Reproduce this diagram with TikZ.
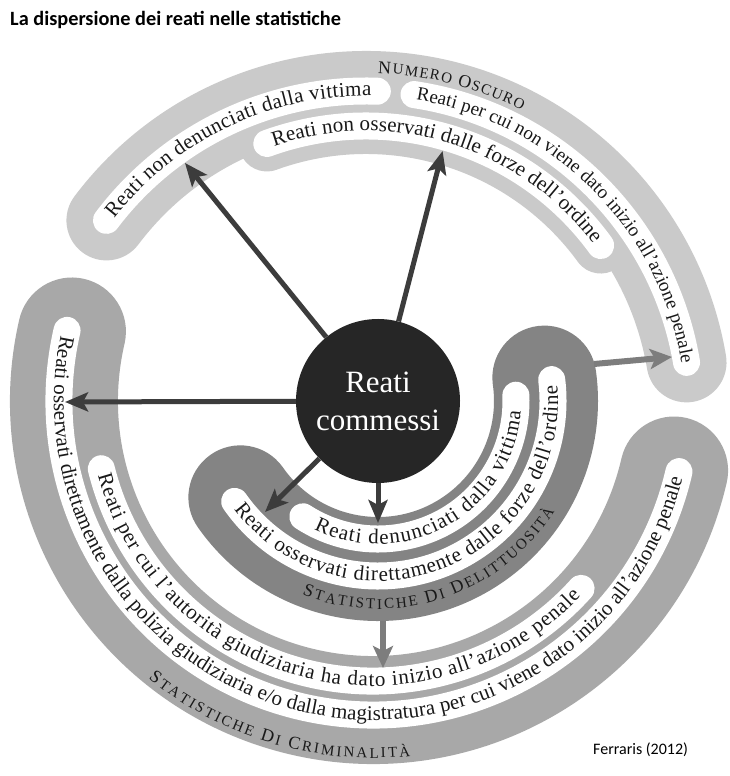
\documentclass[tikz,border=0pt]{standalone}
\usepackage{fontspec}
\setmainfont{Liberation Serif}
\newfontfamily\titlefont{Carlito}
\usetikzlibrary{calc,decorations.text,arrows.meta}
\definecolor{bandA}{RGB}{202,202,202}
\definecolor{bandB}{RGB}{132,132,132}
\definecolor{bandC}{RGB}{168,168,168}
\definecolor{ballc}{RGB}{38,38,38}
\definecolor{arrd}{RGB}{60,60,60}
\definecolor{arrg}{RGB}{125,125,125}
\definecolor{txt}{RGB}{25,25,25}
\newcommand{\stripfont}{\fontsize{21}{21}\selectfont}
\newcommand{\stripfontb}{\fontsize{19}{19}\selectfont}
\newcommand{\capbig}{\fontsize{18}{18}\selectfont}
\newcommand{\capsmall}{\fontsize{15}{15}\selectfont}
\begin{document}
\begin{tikzpicture}[x=1pt,y=1pt,
  band/.style={line cap=round},
  strip/.style={line cap=round, line width=27pt, draw=white},
  darr/.style={line width=5pt, draw=arrd, -{Stealth[length=23pt,width=19pt,inset=5pt]}},
  garr/.style={line width=6pt, draw=arrg, -{Stealth[length=22pt,width=20pt,inset=5pt]}},
  ftext/.style={decorate, decoration={text along path, text color=txt, text align={fit to path, left indent=6pt, right indent=6pt}, text={#1}}},
  wtext/.style={decorate, decoration={text along path, text color=txt, text align={fit to path, left indent=16pt, right indent=16pt}, text={#1}}},
  ltext/.style={decorate, decoration={text along path, text color=txt, text align={fit to path}, text={#1}}}
  ]
\useasboundingbox (0,0) rectangle (729,776);
\fill[white] (0,0) rectangle (729,776);
\coordinate (C1) at (366,360);
\coordinate (C3) at (373,375);
\coordinate (O) at (378,375);

% ---------- band 1: numero oscuro
\draw[band, line width=80pt, draw=bandA] ($(C1)+(143:325)$) arc[start angle=143, end angle=9.5, radius=325];
\draw[band, line width=56pt, draw=bandA] ($(C1)+(110:290)$) arc[start angle=110, end angle=36, radius=290];
\draw[strip] ($(C1)+(143:325)$) arc[start angle=143, end angle=88, radius=325];
\draw[strip] ($(C1)+(81.5:325)$) arc[start angle=81.5, end angle=9.5, radius=325];
\draw[strip] ($(C1)+(110:290)$) arc[start angle=110, end angle=36, radius=290];
\path[ftext={|\stripfont|Reati non denunciati dalla vittima}] ($(C1)+(143:320)$) arc[start angle=143, end angle=88, radius=320];
\path[ltext={|\stripfontb|Reati per cui non viene dato inizio all’azione penale}] ($(C1)+(81:320)$) arc[start angle=81, end angle=9.5, radius=320];
\path[ftext={|\stripfont|Reati non osservati dalle forze dell’ordine}] ($(C1)+(110:285)$) arc[start angle=110, end angle=36, radius=285];
\path[ltext={|\capbig|N|\capsmall|UMERO |\capbig|O|\capsmall|SCURO}] ($(C1)+(88:343)$) arc[start angle=88, end angle=63, radius=343];

% ---------- band 3: statistiche di criminalita
\draw[band, line width=108pt, draw=bandC] ($(C3)+(167:309)$) arc[start angle=167, end angle=347, radius=309];
\draw[strip] ($(C3)+(167:314)$) arc[start angle=167, end angle=347, radius=314];
\draw[strip] ($(C3)+(194:280)$) arc[start angle=194, end angle=318, radius=280];
\path[ftext={|\stripfont|Reati osservati direttamente dalla polizia giudiziaria e/o dalla magistratura per cui viene dato inizio all’azione penale}] ($(C3)+(167:319)$) arc[start angle=167, end angle=347, radius=319];
\path[ftext={|\stripfont|Reati per cui l’autorità giudiziaria ha dato inizio all’azione penale}] ($(C3)+(194:285)$) arc[start angle=194, end angle=318, radius=285];
\path[ltext={|\capbig|S|\capsmall|TATISTICHE |\capbig|D|\capsmall|I |\capbig|C|\capsmall|RIMINALITÀ}] ($(C3)+(231:357)$) arc[start angle=231, end angle=276, radius=357];

% ---------- band 2: statistiche di delittuosita
\draw[band, line width=104pt, draw=bandB] ($(O)+(215:168)$) arc[start angle=215, end angle=368, radius=168];
\draw[strip] ($(O)+(215:175)$) arc[start angle=215, end angle=367, radius=175];
\draw[strip] ($(O)+(237:138)$) arc[start angle=237, end angle=362.4, radius=138];
\path[ftext={|\stripfont|Reati osservati direttamente dalle forze dell’ordine}] ($(O)+(215:180)$) arc[start angle=215, end angle=367, radius=180];
\path[wtext={|\stripfont|Reati denunciati dalla vittima}] ($(O)+(237:143)$) arc[start angle=237, end angle=362.4, radius=143];
\path[ltext={|\capbig|S|\capsmall|TATISTICHE |\capbig|D|\capsmall|I |\capbig|D|\capsmall|ELITTUOSITÀ}] ($(O)+(248.6:208)$) arc[start angle=248.6, end angle=328, radius=208];

% ---------- centre
\node[circle, fill=ballc, minimum size=164pt, inner sep=0pt, text=white, align=center,
      font=\fontsize{31}{38}\selectfont] (rc) at (O) {Reati\\commessi};

% ---------- arrows
\coordinate (tUL) at (185,613);
\coordinate (tUp) at (442.6,625);
\coordinate (tL) at (65,374);
\coordinate (tDL) at (265,264);
\coordinate (tD) at (378,253);
\coordinate (gRs) at (594,412);
\coordinate (gRe) at (672,419);
\coordinate (gDs) at (383,155);
\coordinate (gDe) at (383,108);
\draw[darr] (rc) -- (tUL);
\draw[darr] (rc) -- (tUp);
\draw[darr] (rc) -- (tL);
\draw[darr] (rc) -- (tDL);
\draw[darr] (rc) -- (tD);
\draw[garr] (gRs) -- (gRe);
\draw[garr] (gDs) -- (gDe);

% ---------- title and source
\node[anchor=base west, inner sep=0pt, font=\titlefont\bfseries\fontsize{20.3}{24}\selectfont] (title) at (10,750) {La dispersione dei reati nelle statistiche};
\node[anchor=base west, inner sep=0pt, font=\titlefont\fontsize{16}{19}\selectfont] (src) at (593,21) {Ferraris (2012)};
\end{tikzpicture}
\end{document}
